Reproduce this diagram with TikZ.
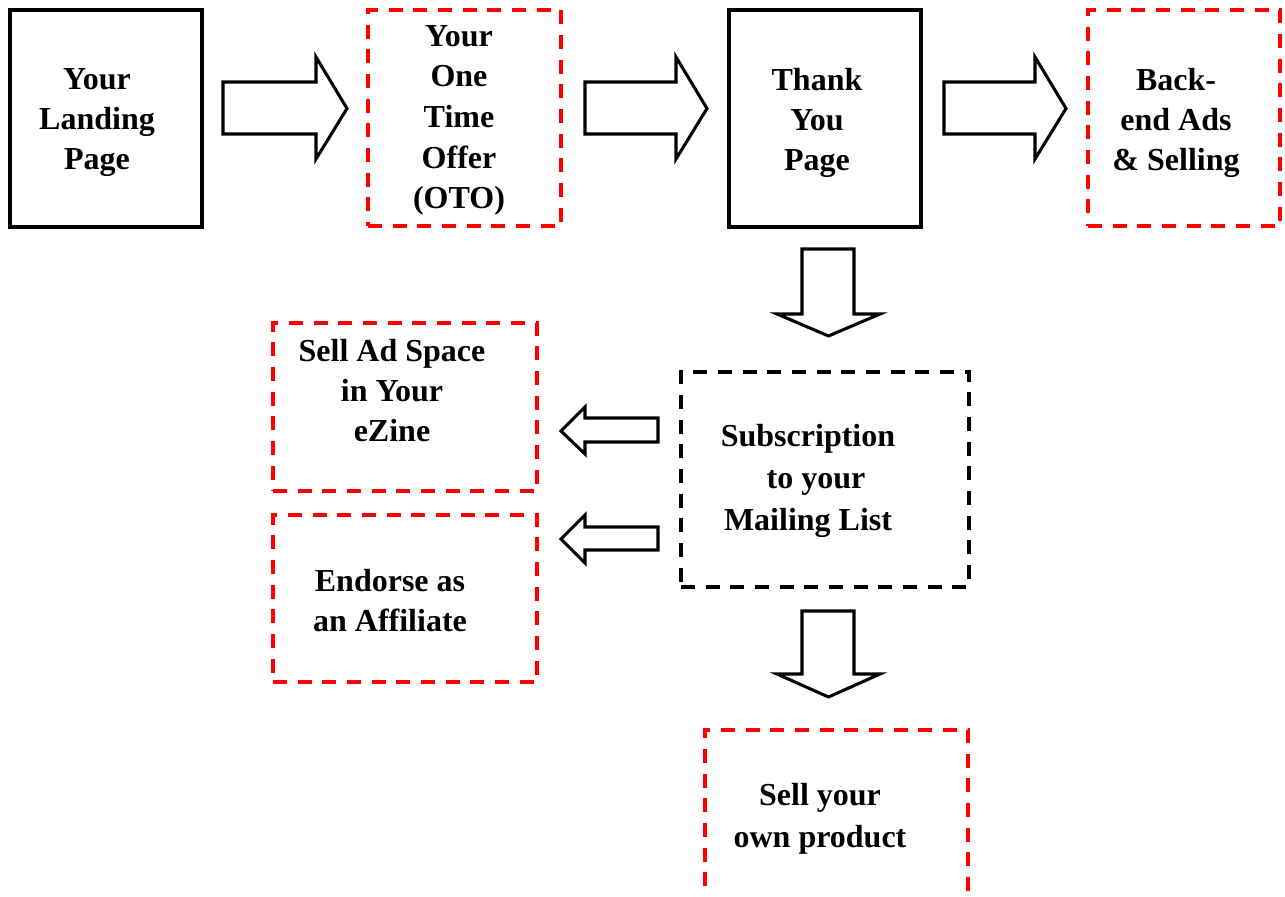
\documentclass[tikz,border=0pt]{standalone}
\usepackage{fontspec}
\setmainfont{Liberation Serif}
\usetikzlibrary{fit}
\definecolor{dashred}{RGB}{255,0,0}
\tikzset{
  solidbox/.style={draw=black, line width=3pt, inner sep=0pt},
  redbox/.style={draw=dashred, line width=3pt, dash pattern=on 10.5pt off 8pt, inner sep=0pt},
  blackdashbox/.style={draw=black, line width=2.4pt, dash pattern=on 10.5pt off 8pt, inner sep=0pt},
  reddashline/.style={draw=dashred, line width=3pt, dash pattern=on 10.5pt off 8pt},
  blockarrow/.style={draw=black, fill=white, line width=2.3pt, line join=miter},
  lbl/.style={align=center, font=\fontsize{24}{30}\selectfont\bfseries, inner sep=0pt},
  lblo/.style={align=center, font=\fontsize{24}{30.5}\selectfont\bfseries, inner sep=0pt},
  lblw/.style={align=center, font=\fontsize{24}{31.5}\selectfont\bfseries, inner sep=0pt}
}
\begin{document}
\begin{tikzpicture}[x=0.75pt,y=-0.75pt]
\clip (0,0) rectangle (1285,896);
\fill[white] (0,0) rectangle (1285,896);

% boxes
\node[solidbox, fit={(10,10)(202,227)}] (land) {};
\node[redbox, fit={(368,10)(561,226)}] (oto) {};
\node[solidbox, fit={(729,10)(921,227)}] (thank) {};
\node[redbox, fit={(1088,10)(1280,226)}] (back) {};
\node[blackdashbox, fit={(681,372)(969,587)}] (sub) {};
\node[redbox, fit={(273,323)(537,491)}] (ad) {};
\node[redbox, fit={(273,515)(537,682)}] (endo) {};
\node[inner sep=0pt, fit={(705,730)(968,960)}] (own) {};
\draw[reddashline] (own.south west) |- (own.north east) -- (own.south east);

% labels
\node[lbl] (tland) at (97,122.5) {Your\\Landing\\Page};
\node[lblo] (toto) at (459,120.5) {Your\\One\\Time\\Offer\\(OTO)};
\node[lbl] (tthank) at (817,122.5) {Thank\\You\\Page};
\node[lbl] (tback) at (1176,122.5) {Back-\\end Ads\\\& Selling};
\node[lblw] (tsub) at (808,481) {Subscription\\\hspace*{0.5em}to your\\Mailing List};
\node[lbl] (tad) at (392,391) {Sell Ad Space\\in Your\\eZine};
\node[lbl] (tendo) at (390,601) {Endorse as\\an Affiliate};
\node[lblw] (town) at (820,819) {Sell your\\own product};

% right block arrows
\draw[blockarrow] (223,82) -- (316,82) -- (316,57) -- (347,108.5) -- (316,159) -- (316,134) -- (223,134) -- cycle;
\draw[blockarrow] (585,82) -- (676,82) -- (676,57) -- (707,108.5) -- (676,159) -- (676,134) -- (585,134) -- cycle;
\draw[blockarrow] (944,82) -- (1035,82) -- (1035,57) -- (1066,108.5) -- (1035,159) -- (1035,134) -- (944,134) -- cycle;

% down block arrows
\draw[blockarrow] (802,249) -- (854,249) -- (854,314) -- (880,314) -- (828.5,336) -- (777,314) -- (802,314) -- cycle;
\draw[blockarrow] (802,611) -- (854,611) -- (854,674) -- (880,674) -- (828.5,697) -- (777,674) -- (802,674) -- cycle;

% left block arrows
\draw[blockarrow] (658,418) -- (585,418) -- (585,407) -- (561,431) -- (585,454) -- (585,442) -- (658,442) -- cycle;
\draw[blockarrow] (658,527) -- (585,527) -- (585,515) -- (561,539) -- (585,563) -- (585,550) -- (658,550) -- cycle;
\end{tikzpicture}
\end{document}
